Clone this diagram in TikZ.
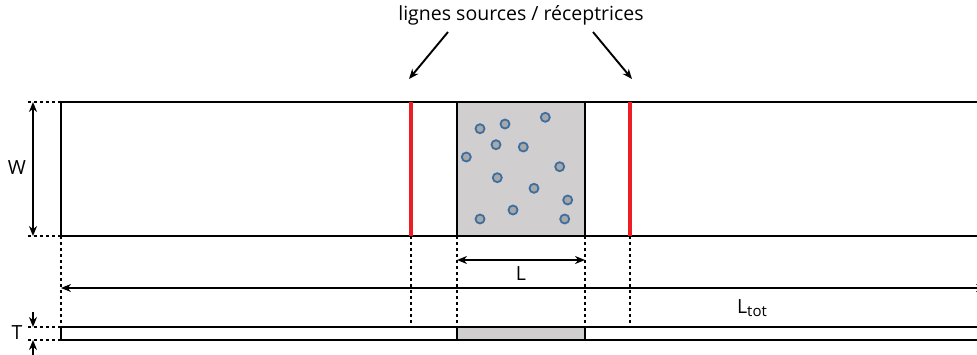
\documentclass[tikz,border=0pt]{standalone}
\usepackage{fontspec}
\setmainfont{Open Sans}
\usetikzlibrary{arrows.meta}
\definecolor{boxgrey}{RGB}{208,206,206}
\definecolor{dotfill}{RGB}{168,168,168}
\definecolor{dotedge}{RGB}{62,110,160}
\definecolor{redline}{RGB}{236,30,36}
\tikzset{
  solidline/.style={line width=2.2pt},
  dimline/.style={line width=1.6pt,dash pattern=on 3pt off 3pt},
  dimarrow/.style={line width=1.9pt,-{Stealth[length=10pt,width=8pt]}},
  dimarrows/.style={line width=1.9pt,{Stealth[length=10pt,width=8pt]}-{Stealth[length=10pt,width=8pt]}},
  sensor/.style={line width=3.4pt,redline},
  particle/.style={circle,draw=dotedge,fill=dotfill,line width=1.8pt,minimum size=9pt,inner sep=0pt},
  lbl/.style={font=\fontsize{19.5}{22}\selectfont,inner sep=0pt}
}
\begin{document}
\begin{tikzpicture}[x=1pt,y=-1pt]
\useasboundingbox (0,0) rectangle (977,354);
% coordinates
\coordinate (stl) at (61,102);
\coordinate (sbl) at (61,236);
\coordinate (str) at (977,102);
\coordinate (sbr) at (977,236);
% grey sample
\fill[boxgrey] (457,102) rectangle (585,236);
\fill[boxgrey] (457,327) rectangle (585,340);
% main strip
\draw[solidline] (str) -- (stl) -- (sbl) -- (sbr);
\draw[solidline] (457,102) -- (457,236);
\draw[solidline] (585,102) -- (585,236);
% thin strip
\coordinate (ttl) at (61,327);
\coordinate (tbl) at (61,340);
\draw[solidline] (977,327) -- (ttl) -- (tbl) -- (977,340);
\draw[solidline] (457,327) -- (457,340);
\draw[solidline] (585,327) -- (585,340);
% red lines
\coordinate (r1t) at (411,102); \coordinate (r1b) at (411,236);
\coordinate (r2t) at (630,102); \coordinate (r2b) at (630,236);
\draw[sensor] (r1t) -- (r1b);
\draw[sensor] (r2t) -- (r2b);
% particles
\foreach \i/\px/\py in {1/480/128.7,2/505/124,3/545.3/117.3,4/496/144.7,5/523.3/147,6/466.3/157,7/559.7/166.7,8/497.3/177.7,9/534/188.3,10/567.7/200,11/513/210,12/480/219,13/564.7/219}
  \node[particle] (p\i) at (\px,\py) {};
% dotted extension lines
\draw[dimline] (sbl) -- (tbl);
\draw[dimline] (r1b) -- (411,325);
\draw[dimline] (457,236) -- (457,327);
\draw[dimline] (585,236) -- (585,327);
\draw[dimline] (r2b) -- (630,325);
\draw[dimline] (28,102) -- (stl);
\draw[dimline] (28,236) -- (sbl);
\draw[dimline] (28,327) -- (ttl);
\draw[dimline] (28,340) -- (tbl);
% W
\coordinate (wt) at (33,102); \coordinate (wb) at (33,236);
\draw[dimarrows] (wt) -- (wb);
\node[lbl] (W) at (17,168) {W};
% T
\coordinate (tt) at (33,327); \coordinate (tb) at (33,340);
\coordinate (tta) at (33,312); \coordinate (tba) at (33,355);
\draw[dimarrow] (tta) -- (tt);
\draw[dimarrow] (tba) -- (tb);
\node[lbl] (T) at (17,333) {T};
% L
\coordinate (la) at (457,260); \coordinate (lb) at (585,260);
\draw[dimarrows] (la) -- (lb);
\node[lbl] (L) at (521,274) {L};
% Ltot
\coordinate (lta) at (61,288); \coordinate (ltb) at (986,288);
\draw[dimarrows] (lta) -- (ltb);
\node[lbl] (Ltot) at (752,308) {L\raisebox{-0.35ex}{\fontsize{15}{15}\selectfont tot}};
% title
\node[lbl] (title) at (521,15) {lignes sources / réceptrices};
\coordinate (a1) at (448,32); \coordinate (a2) at (593,32);
\draw[dimarrow] (a1) -- (409,79);
\draw[dimarrow] (a2) -- (632,79);
\end{tikzpicture}
\end{document}
